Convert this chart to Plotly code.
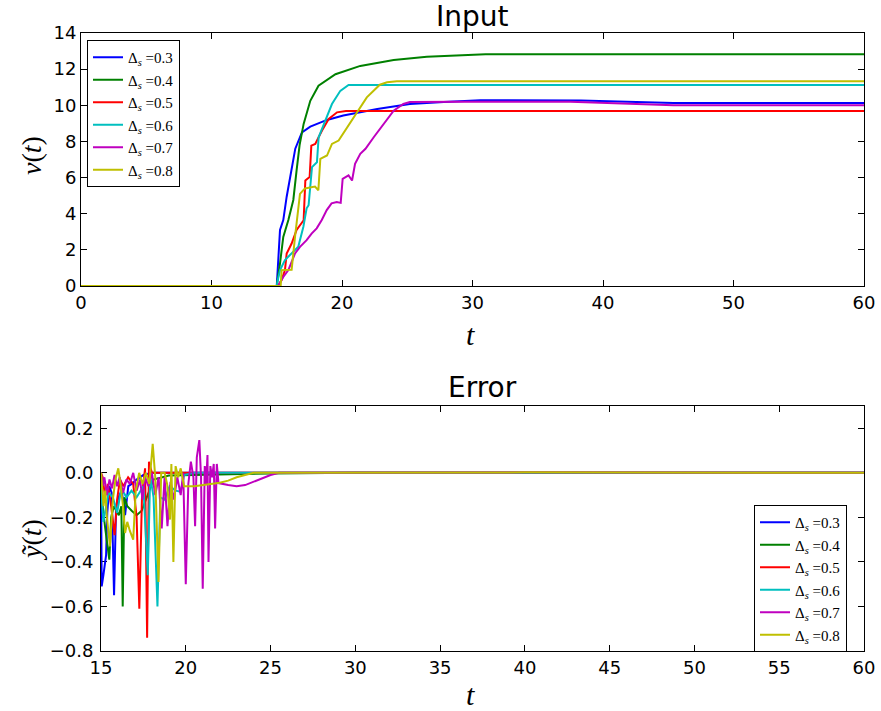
import plotly.graph_objects as go

# ---------------- data: Input v(t) ----------------
labels = ["0.3", "0.4", "0.5", "0.6", "0.7", "0.8"]
colors = ["#0000ff", "#008000", "#ff0000", "#00bfbf", "#bf00bf", "#bfbf00"]

t_in_03 = [0, 15.0, 15.25, 15.5, 15.76, 16.14, 16.42, 16.93, 17.57, 18.85, 20.1, 22.7, 25.2, 27.8, 30.6, 38.3, 42.0, 45.4, 60]
v_in_03 = [0, 0, 3.1, 3.65, 4.94, 6.4, 7.6, 8.5, 8.82, 9.19, 9.43, 9.8, 10.07, 10.18, 10.28, 10.27, 10.18, 10.12, 10.12]

t_in_04 = [0, 15.0, 15.25, 15.5, 15.89, 16.27, 16.52, 16.75, 17.06, 17.57, 18.2, 19.5, 21.4, 23.96, 26.5, 29.1, 31.0, 60]
v_in_04 = [0, 0, 1.25, 2.72, 3.65, 4.76, 6.4, 7.8, 8.97, 10.25, 11.08, 11.72, 12.18, 12.5, 12.68, 12.77, 12.82, 12.82]

t_in_05 = [0, 15.1, 15.37, 15.63, 15.76, 16.14, 16.52, 16.8, 17.06, 17.19, 17.52, 17.65, 17.95, 18.47, 18.98, 19.62, 20.3, 60]
v_in_05 = [0, 0, 0.33, 0.88, 1.8, 2.35, 3.1, 3.4, 3.64, 5.84, 6.03, 7.77, 7.86, 8.6, 9.24, 9.61, 9.68, 9.68]

t_in_06 = [0, 15.0, 15.07, 15.25, 15.63, 16.14, 16.65, 17.04, 17.29, 17.44, 17.7, 18.08, 18.21, 18.72, 19.23, 19.87, 20.5, 60]
v_in_06 = [0, 0, 0.3, 0.88, 1.44, 1.8, 2.17, 3.28, 4.3, 4.47, 6.58, 6.85, 8.23, 9.15, 10.07, 10.8, 11.12, 11.12]

t_in_07 = [0, 15.1, 15.5, 15.89, 16.4, 16.78, 17.29, 17.67, 18.06, 18.45, 18.83, 19.2, 19.6, 19.9, 20.05, 20.3, 20.5, 20.77, 21.0, 21.4, 21.8, 22.43, 23.2, 23.96, 24.7, 25.2, 29.0, 37.5, 45.4, 60]
v_in_07 = [0, 0, 0.5, 0.88, 1.8, 2.17, 2.54, 2.9, 3.19, 3.65, 4.2, 4.57, 4.65, 4.6, 5.93, 6.05, 6.12, 5.84, 6.76, 7.31, 7.59, 8.23, 8.97, 9.7, 10.07, 10.18, 10.2, 10.2, 10.0, 10.0]

t_in_08 = [0, 15.3, 15.37, 16.14, 16.4, 16.78, 17.16, 17.93, 18.19, 18.34, 18.85, 19.0, 19.23, 19.74, 20.9, 21.9, 22.9, 23.45, 24.2, 60]
v_in_08 = [0, 0, 0.88, 0.9, 2.72, 5.1, 5.4, 5.5, 5.3, 7.04, 7.22, 7.5, 7.86, 8.05, 9.33, 10.44, 11.14, 11.27, 11.33, 11.33]

# ---------------- data: Error y~(t) ----------------
t_er_03 = [15.0, 15.04, 15.14, 15.3, 15.37, 15.49, 15.63, 15.77, 15.89, 16.03, 16.22, 16.42, 16.61, 16.81, 17.1, 17.5, 18.0, 30.0, 60]
e_er_03 = [0.0, -0.51, -0.46, -0.37, -0.18, -0.06, -0.09, -0.55, -0.15, -0.11, -0.08, -0.19, -0.06, -0.05, -0.03, -0.01, 0.0, 0.0, 0.0]

t_er_04 = [15.0, 15.1, 15.25, 15.35, 15.49, 15.6, 15.75, 15.9, 16.05, 16.2, 16.28, 16.38, 16.55, 16.81, 17.1, 17.4, 17.7, 18.1, 19.0, 22.0, 25.0, 30.0, 60]
e_er_04 = [0.0, -0.15, -0.25, -0.32, -0.39, -0.2, -0.15, -0.17, -0.19, -0.15, -0.6, -0.11, -0.15, -0.17, -0.19, -0.17, -0.107, -0.03, -0.012, -0.008, -0.003, 0.0, 0.0]

t_er_05 = [15.0, 15.1, 15.24, 15.4, 15.6, 15.8, 15.95, 16.12, 16.32, 16.6, 16.9, 17.1, 17.26, 17.42, 17.6, 17.72, 17.83, 18.0, 30.0, 60]
e_er_05 = [0.0, -0.02, -0.11, -0.05, -0.15, -0.28, -0.12, -0.03, -0.06, -0.02, -0.05, -0.2, -0.61, -0.1, 0.02, -0.74, 0.05, 0.0, 0.0, 0.0]

t_er_06 = [15.0, 15.04, 15.14, 15.3, 15.45, 15.7, 15.95, 16.2, 16.5, 16.8, 17.1, 17.5, 17.76, 17.9, 18.1, 18.33, 18.5, 18.75, 19.05, 19.4, 19.7, 19.9, 20.5, 30.0, 60]
e_er_06 = [0.0, -0.11, -0.22, -0.15, -0.09, -0.11, -0.18, -0.07, -0.11, -0.08, -0.11, -0.06, -0.46, -0.01, -0.11, -0.6, -0.11, -0.12, -0.06, -0.08, -0.085, -0.01, 0.0, 0.0, 0.0]

t_er_07 = [15.0, 15.1, 15.2, 15.35, 15.5, 15.65, 15.8, 15.95, 16.1, 16.3, 16.5, 16.7, 16.9, 17.1, 17.3, 17.45, 17.6, 17.8, 18.0, 18.2, 18.4, 18.58, 18.75, 18.92, 19.1, 19.3, 19.5, 19.7, 19.85, 20.0, 20.15, 20.3, 20.45, 20.55, 20.65, 20.8, 20.9, 21.0, 21.12, 21.2, 21.28, 21.34, 21.45, 21.55, 21.65, 21.73, 21.83, 21.93, 22.5, 23.0, 23.5, 24.0, 24.5, 25.0, 25.5, 40.0, 60]
e_er_07 = [0.0, -0.06, -0.02, -0.1, -0.03, -0.07, -0.01, -0.06, -0.02, -0.09, -0.03, -0.05, 0.0, -0.08, -0.03, -0.12, -0.02, -0.06, 0.0, -0.1, -0.02, -0.25, -0.02, -0.24, -0.04, -0.12, -0.02, -0.1, 0.0, -0.5, -0.05, 0.05, -0.02, -0.24, 0.07, 0.147, -0.02, -0.52, 0.03, -0.05, 0.08, -0.40, 0.03, -0.02, 0.04, -0.25, 0.04, -0.046, -0.055, -0.06, -0.055, -0.04, -0.025, -0.01, 0.0, 0.002, 0.0]

t_er_08 = [15.0, 15.05, 15.15, 15.25, 15.35, 15.53, 15.7, 15.85, 16.02, 16.15, 16.3, 16.42, 16.55, 16.7, 16.9, 17.05, 17.25, 17.45, 17.65, 17.85, 18.05, 18.2, 18.39, 18.55, 18.75, 18.9, 19.07, 19.15, 19.27, 19.4, 19.55, 19.7, 19.9, 20.5, 21.0, 21.5, 22.0, 22.5, 23.0, 23.5, 24.0, 40.0, 60]
e_er_08 = [0.0, -0.05, -0.15, -0.08, -0.2, -0.33, -0.12, -0.03, 0.02, -0.05, -0.15, -0.27, -0.22, -0.26, -0.3, -0.08, 0.0, -0.05, 0.0, -0.05, 0.13, -0.02, -0.49, 0.0, 0.0, -0.05, -0.21, 0.04, -0.40, 0.03, -0.02, 0.02, -0.06, -0.06, -0.055, -0.05, -0.045, -0.035, -0.02, -0.01, 0.0, 0.002, 0.0]

inputs = [(t_in_03, v_in_03), (t_in_04, v_in_04), (t_in_05, v_in_05),
          (t_in_06, v_in_06), (t_in_07, v_in_07), (t_in_08, v_in_08)]
errors = [(t_er_03, e_er_03), (t_er_04, e_er_04), (t_er_05, e_er_05),
          (t_er_06, e_er_06), (t_er_07, e_er_07), (t_er_08, e_er_08)]

W, H = 881, 711
fig = go.Figure()

def name(lbl):
    return "Δ<sub><i>s</i></sub> =" + lbl

for (t, v), lbl, c in zip(inputs, labels, colors):
    fig.add_trace(go.Scatter(x=t, y=v, mode="lines", name=name(lbl),
                             line=dict(color=c, width=2), xaxis="x", yaxis="y",
                             legend="legend"))
for (t, e), lbl, c in zip(errors, labels, colors):
    fig.add_trace(go.Scatter(x=t, y=e, mode="lines", name=name(lbl),
                             line=dict(color=c, width=2), xaxis="x2", yaxis="y2",
                             legend="legend2"))

def px_x(p):
    return p / W

def px_y(p):
    return 1 - p / H

tick_font = dict(family="DejaVu Sans", size=18, color="black")
axis_common = dict(showline=True, linecolor="black", linewidth=1, mirror="allticks",
                   ticks="inside", ticklen=6, tickcolor="black", tickwidth=1,
                   showgrid=False, zeroline=False, tickfont=tick_font, automargin=False,
                   layer="below traces")

fig.update_layout(
    width=W, height=H,
    margin=dict(l=0, r=0, t=0, b=0, pad=0, autoexpand=False),
    paper_bgcolor="white", plot_bgcolor="white",
    xaxis=dict(domain=[px_x(81), px_x(864)], range=[0, 60], tickvals=[0, 10, 20, 30, 40, 50, 60],
               anchor="y", **axis_common),
    yaxis=dict(domain=[px_y(286), px_y(33)], range=[0, 14], tickvals=[0, 2, 4, 6, 8, 10, 12, 14],
               anchor="x", **axis_common),
    xaxis2=dict(domain=[px_x(101), px_x(864)], range=[15, 60],
                tickvals=[15, 20, 25, 30, 35, 40, 45, 50, 55, 60], anchor="y2", **axis_common),
    yaxis2=dict(domain=[px_y(651), px_y(406)], range=[-0.8, 0.3],
                tickvals=[-0.8, -0.6, -0.4, -0.2, 0.0, 0.2], tickformat=".1f",
                ticklabelstandoff=3, anchor="x2", **axis_common),
    legend=dict(x=px_x(87), y=px_y(40), xanchor="left", yanchor="top",
                bgcolor="white", bordercolor="black", borderwidth=1,
                font=dict(family="Liberation Serif", size=15, color="black")),
    legend2=dict(x=px_x(754), y=px_y(505), xanchor="left", yanchor="top",
                 bgcolor="white", bordercolor="black", borderwidth=1,
                 font=dict(family="Liberation Serif", size=15, color="black")),
    showlegend=True,
)

def label(text, xc, yc, size, family, angle=0):
    return dict(text=text, x=px_x(xc), y=px_y(yc), xref="paper", yref="paper",
                xanchor="center", yanchor="middle", showarrow=False, textangle=angle,
                font=dict(family=family, size=size, color="black"))

ann = [
    label("Input", 472.5, 16, 28, "DejaVu Sans"),
    label("Error", 482.5, 387, 28, "DejaVu Sans"),
    label("<i>v</i>(<i>t</i>)", 31, 156, 28, "Liberation Serif", -90),
    label("<i>ỹ</i>(<i>t</i>)", 31, 540, 28, "Liberation Serif", -90),
    label("<i>t</i>", 471, 335, 30, "Liberation Serif"),
    label("<i>t</i>", 471, 694, 30, "Liberation Serif"),
]
fig.update_layout(annotations=ann)

fig.write_html("out.html")
